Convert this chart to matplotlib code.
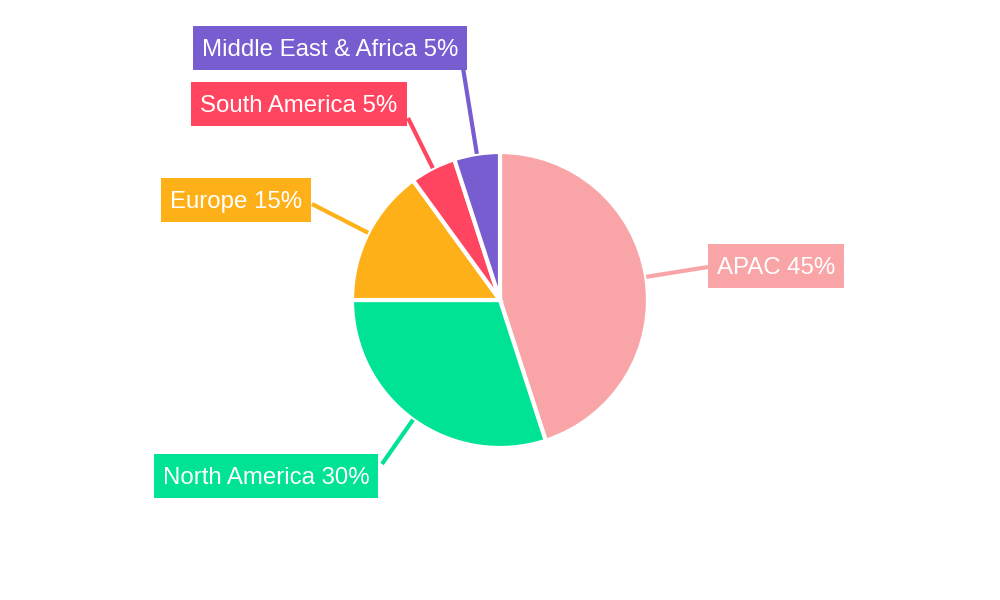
import matplotlib
matplotlib.use("Agg")
import matplotlib.pyplot as plt
import numpy as np

categories = ["APAC", "North America", "Europe", "South America", "Middle East & Africa"]
values = [45, 30, 15, 5, 5]
colors = ["#F9A5A8", "#00E394", "#FEB019", "#FF4560", "#775DD0"]
# label box centers (pixel coords, y down) and line end points
label_pos = [(776, 266), (266, 476), (236, 200), (299, 104), (330, 48)]
line_end = [(708, 267), (382, 464), (312, 204), (408, 118), (463, 68)]

plt.rcParams['font.family'] = ['Liberation Sans', 'DejaVu Sans']
fig = plt.figure(figsize=(10, 6), dpi=100)
ax = fig.add_axes([0, 0, 1, 1])
cx, cy, r = 500, 300, 148
ax.pie(values, colors=colors, startangle=90, counterclock=False, center=(cx, cy), radius=r,
       wedgeprops=dict(edgecolor='white', linewidth=3), frame=True)
ax.set_xlim(0, 1000); ax.set_ylim(0, 600); ax.axis('off')
ax.set_aspect('equal')

start = 90.0
for cat, v, c, lp, le in zip(categories, values, colors, label_pos, line_end):
    ang = np.deg2rad(start - v * 3.6 / 2)
    start -= v * 3.6
    sx, sy = cx + r * np.cos(ang), cy + r * np.sin(ang)
    ax.plot([sx, le[0]], [sy, 600 - le[1]], color=c, lw=3, solid_capstyle='butt', zorder=1)
    x0, y0 = lp[0], 600 - lp[1]
    t = ax.text(x0, y0 - 2, f"{cat} {v}%", ha='center', va='center', fontsize=17.3, color='white', zorder=3)
    fig.canvas.draw()
    bb = t.get_window_extent()
    w = bb.width + 18
    ax.add_patch(plt.Rectangle((x0 - w / 2, y0 - 22), w, 44, fc=c, ec='none', zorder=2))

fig.savefig("out.png", dpi=100)
